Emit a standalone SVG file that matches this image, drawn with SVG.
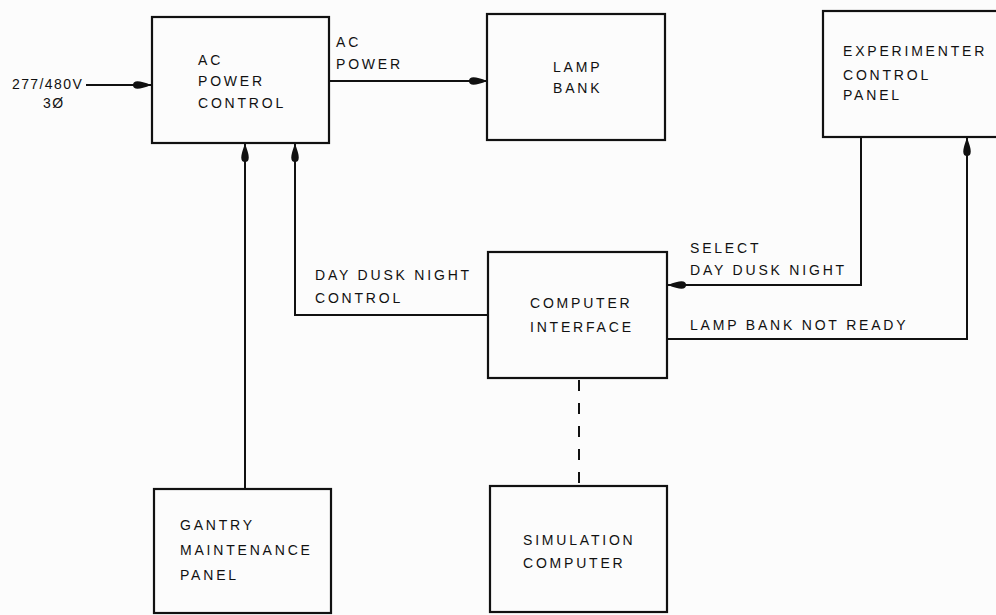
<svg xmlns="http://www.w3.org/2000/svg" width="996" height="615" viewBox="0 0 996 615">
  <style>
    .box { fill: none; stroke: #111; stroke-width: 2.2; }
    .conn { fill: none; stroke: #111; stroke-width: 2; }
    .dash { stroke-dasharray: 11 12; }
    text { font-family: "Liberation Sans", Arial, sans-serif; font-size: 14px; fill: #111; letter-spacing: 2.8px; }
    .tight { letter-spacing: 1.4px; }
  </style>
  <defs>
    <marker id="arr" viewBox="0 0 18 11" refX="18" refY="5.5" markerWidth="18" markerHeight="11" markerUnits="userSpaceOnUse" orient="auto">
      <path d="M0,5.5 C0,0.5 6,0.5 18,5.5 C6,10.5 0,10.5 0,5.5 Z" fill="#111"/>
    </marker>
  </defs>
  <rect width="996" height="615" fill="#fcfcfc"/>

  <g id="connectors">
    <line class="conn" x1="86" y1="85" x2="151" y2="85" marker-end="url(#arr)"/>
    <line class="conn" x1="329" y1="81" x2="487" y2="81" marker-end="url(#arr)"/>
    <line class="conn" x1="245" y1="489" x2="245" y2="144" marker-end="url(#arr)"/>
    <polyline class="conn" points="488,315 295,315 295,144" marker-end="url(#arr)"/>
    <polyline class="conn" points="861,137 861,285 668,285" marker-end="url(#arr)"/>
    <polyline class="conn" points="667,339 967,339 967,138" marker-end="url(#arr)"/>
    <line class="conn dash" x1="579" y1="380" x2="579" y2="486"/>
  </g>

  <g id="input-label">
    <text class="tight" x="12" y="89">277/480V</text>
    <text class="tight" x="43" y="108">3Ø</text>
  </g>

  <g id="ac-power-control">
    <rect class="box" x="152" y="17" width="177" height="126"/>
    <text x="198" y="65">AC</text>
    <text x="198" y="86">POWER</text>
    <text x="198" y="108">CONTROL</text>
  </g>

  <g id="ac-power-label">
    <text x="336" y="47">AC</text>
    <text x="336" y="69">POWER</text>
  </g>

  <g id="lamp-bank">
    <rect class="box" x="487" y="14" width="178" height="126"/>
    <text x="553" y="72">LAMP</text>
    <text x="553" y="93">BANK</text>
  </g>

  <g id="experimenter-control-panel">
    <rect class="box" x="823" y="11" width="190" height="126"/>
    <text x="843" y="56">EXPERIMENTER</text>
    <text x="843" y="80">CONTROL</text>
    <text x="843" y="100">PANEL</text>
  </g>

  <g id="day-dusk-night-control-label">
    <text x="315" y="280">DAY DUSK NIGHT</text>
    <text x="315" y="303">CONTROL</text>
  </g>

  <g id="computer-interface">
    <rect class="box" x="488" y="252" width="179" height="126"/>
    <text x="530" y="308">COMPUTER</text>
    <text x="530" y="332">INTERFACE</text>
  </g>

  <g id="select-label">
    <text x="690" y="253">SELECT</text>
    <text x="690" y="275">DAY DUSK NIGHT</text>
  </g>

  <g id="lamp-bank-not-ready-label">
    <text x="690" y="330">LAMP BANK NOT READY</text>
  </g>

  <g id="gantry-maintenance-panel">
    <rect class="box" x="154" y="489" width="177" height="124"/>
    <text x="180" y="530">GANTRY</text>
    <text x="180" y="555">MAINTENANCE</text>
    <text x="180" y="580">PANEL</text>
  </g>

  <g id="simulation-computer">
    <rect class="box" x="490" y="486" width="177" height="126"/>
    <text x="523" y="545">SIMULATION</text>
    <text x="523" y="568">COMPUTER</text>
  </g>
</svg>
